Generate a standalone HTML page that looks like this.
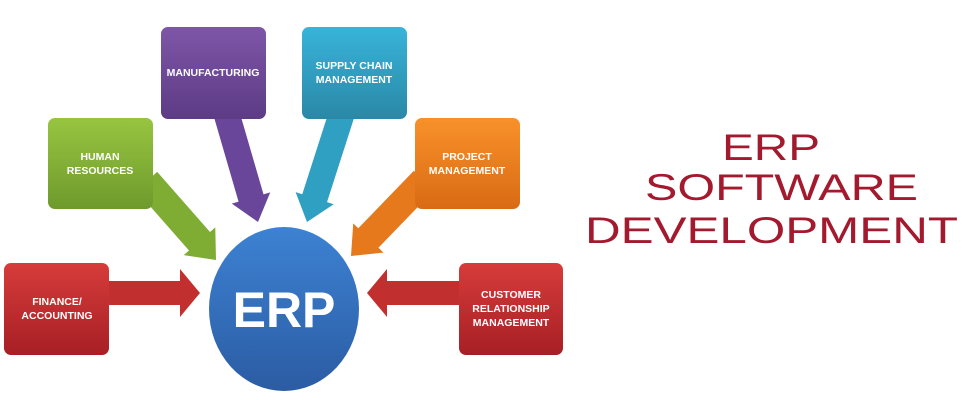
<!DOCTYPE html>
<html><head><meta charset="utf-8"><style>
html,body{margin:0;padding:0;background:#fff;width:980px;height:400px;overflow:hidden}
</style></head><body>
<svg width="980" height="400" viewBox="0 0 980 400" xmlns="http://www.w3.org/2000/svg" font-family="Liberation Sans, sans-serif">
<defs>
<linearGradient id="gp" x1="0" y1="0" x2="0" y2="1"><stop offset="0" stop-color="#7e56a8"/><stop offset="1" stop-color="#5d3b85"/></linearGradient>
<linearGradient id="gt" x1="0" y1="0" x2="0" y2="1"><stop offset="0" stop-color="#38b4da"/><stop offset="1" stop-color="#2a88a6"/></linearGradient>
<linearGradient id="gg" x1="0" y1="0" x2="0" y2="1"><stop offset="0" stop-color="#97c540"/><stop offset="1" stop-color="#6e9a2c"/></linearGradient>
<linearGradient id="go" x1="0" y1="0" x2="0" y2="1"><stop offset="0" stop-color="#f8912a"/><stop offset="1" stop-color="#d96b14"/></linearGradient>
<linearGradient id="gr" x1="0" y1="0" x2="0" y2="1"><stop offset="0" stop-color="#d63c3a"/><stop offset="1" stop-color="#a71f25"/></linearGradient>
<linearGradient id="gb" x1="0" y1="0" x2="0" y2="1"><stop offset="0" stop-color="#3d82d3"/><stop offset="1" stop-color="#2b5ca3"/></linearGradient>
</defs>
<!-- arrows -->
<g transform="translate(200,293)"><polygon fill="#c1302f" points="-95,-12 -20,-12 -20,-24 0,0 -20,24 -20,12 -95,12"/></g>
<g transform="translate(367,293) rotate(180)"><polygon fill="#c1302f" points="-95,-12 -20,-12 -20,-24 0,0 -20,24 -20,12 -95,12"/></g>
<g transform="translate(258,222) rotate(73.8)"><polygon fill="#6a469a" points="-115,-13 -25,-13 -25,-20 0,0 -25,20 -25,13 -115,13"/></g>
<g transform="translate(307,222) rotate(107.8)"><polygon fill="#2f9fc2" points="-115,-13 -25,-13 -25,-20 0,0 -25,20 -25,13 -115,13"/></g>
<g transform="translate(216,260) rotate(48.7)"><polygon fill="#7fad33" points="-105,-14 -25,-14 -25,-21 0,0 -25,21 -25,14 -105,14"/></g>
<g transform="translate(351,256) rotate(134)"><polygon fill="#e5791c" points="-105,-14 -25,-14 -25,-21 0,0 -25,21 -25,14 -105,14"/></g>
<!-- boxes -->
<g font-weight="bold" font-size="10.5" fill="#fff" text-anchor="middle">
<rect x="161" y="27" width="105" height="92" rx="7" fill="url(#gp)"/>
<text x="213" y="76" fill="#fff">MANUFACTURING</text>
<rect x="302" y="27" width="105" height="92" rx="7" fill="url(#gt)"/>
<text x="354" y="69" fill="#fff">SUPPLY CHAIN</text><text x="354" y="83" fill="#fff">MANAGEMENT</text>
<rect x="48" y="118" width="105" height="91" rx="7" fill="url(#gg)"/>
<text x="100" y="160" fill="#fff">HUMAN</text><text x="100" y="174" fill="#fff">RESOURCES</text>
<rect x="415" y="118" width="105" height="91" rx="7" fill="url(#go)"/>
<text x="467" y="160" fill="#fff">PROJECT</text><text x="467" y="174" fill="#fff">MANAGEMENT</text>
<rect x="4" y="263" width="105" height="92" rx="7" fill="url(#gr)"/>
<text x="57" y="305" fill="#fff">FINANCE/</text><text x="57" y="319" fill="#fff">ACCOUNTING</text>
<rect x="459" y="263" width="104" height="92" rx="7" fill="url(#gr)"/>
<text x="511" y="298" fill="#fff">CUSTOMER</text><text x="511" y="312" fill="#fff">RELATIONSHIP</text><text x="511" y="326" fill="#fff">MANAGEMENT</text>
</g>
<ellipse cx="284" cy="309" rx="75" ry="82" fill="url(#gb)"/>
<text x="284" y="327" text-anchor="middle" font-size="50" font-weight="bold" fill="#fff">ERP</text>
<!-- title -->
<g fill="#a3192e" font-size="37">
<text x="722" y="160" textLength="98" lengthAdjust="spacingAndGlyphs">ERP</text>
<text x="645" y="200" textLength="273" lengthAdjust="spacingAndGlyphs">SOFTWARE</text>
<text x="585" y="243" textLength="373" lengthAdjust="spacingAndGlyphs">DEVELOPMENT</text>
</g>
</svg>
</body></html>
